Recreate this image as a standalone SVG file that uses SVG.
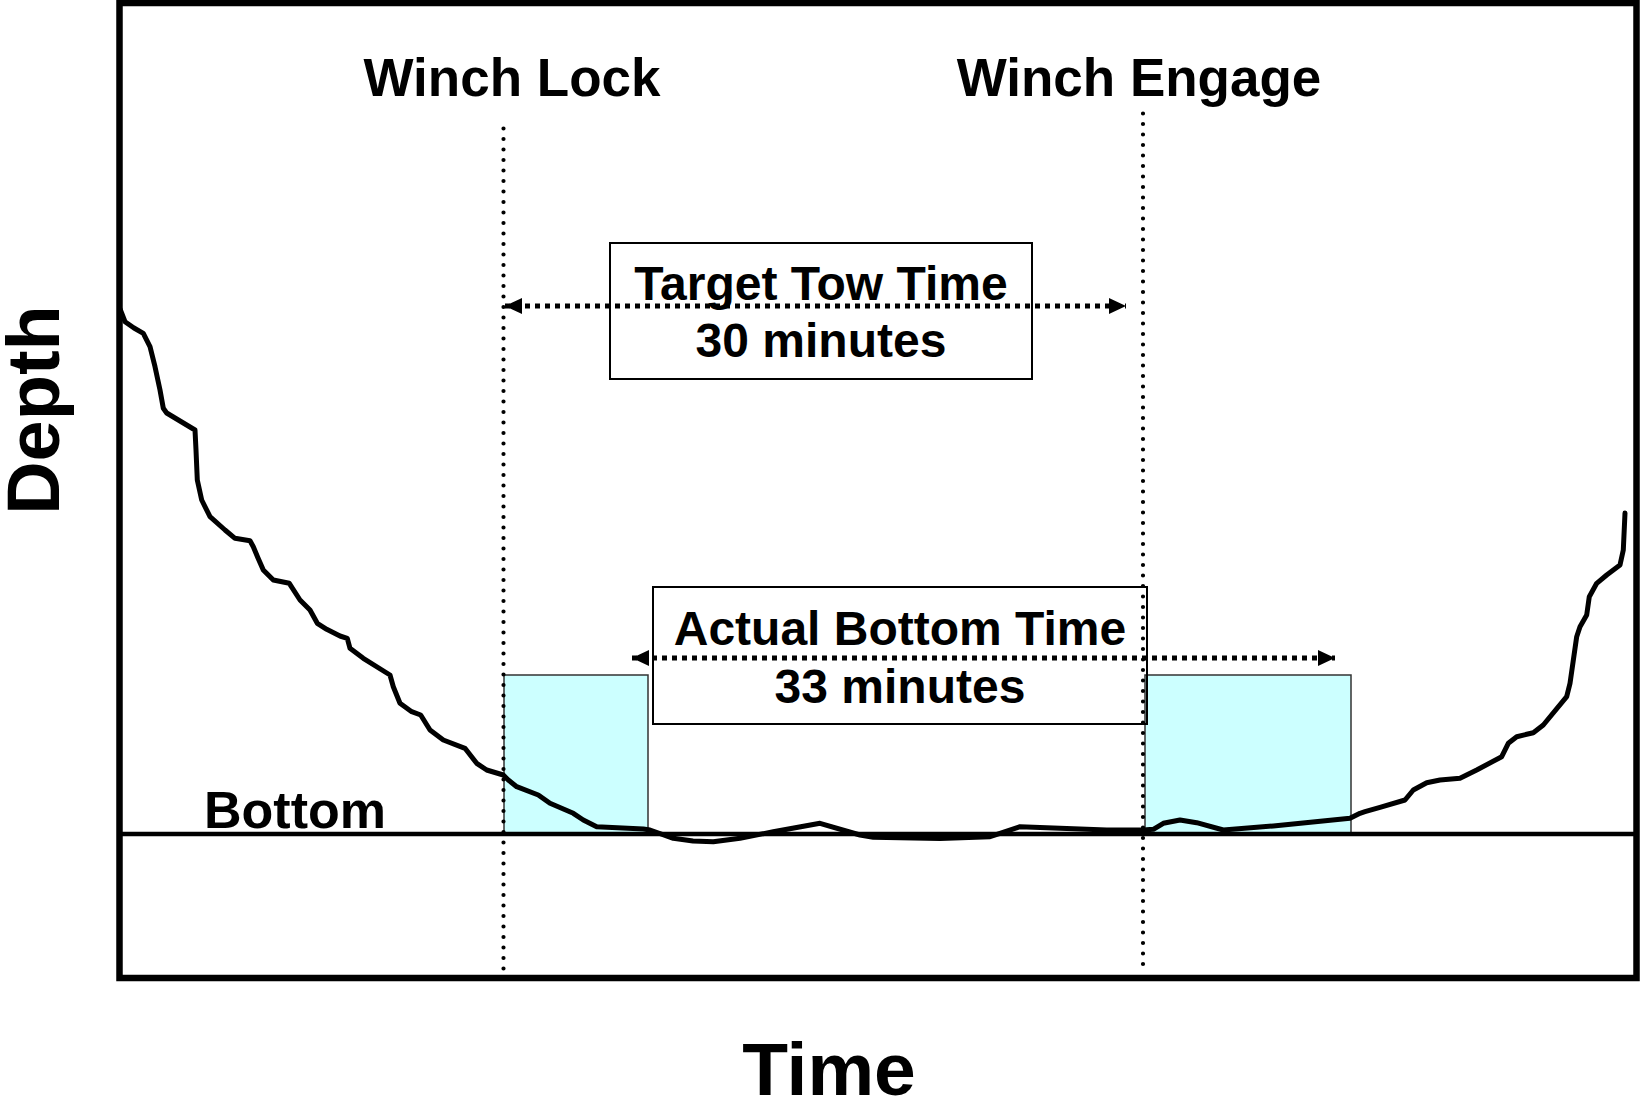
<svg xmlns="http://www.w3.org/2000/svg" width="1640" height="1101" viewBox="0 0 1640 1101">
<style>
  text { font-family: "Liberation Sans", Arial, sans-serif; font-weight: bold; fill: #000; }
  .lbl { font-size: 53px; text-anchor: middle; }
  .box-t { font-size: 48px; text-anchor: middle; }
  .axis { font-size: 74px; text-anchor: middle; }
  .vline { stroke: #000; stroke-width: 4.2; stroke-dasharray: 0 10.5; stroke-linecap: round; fill: none; }
  .arrow { stroke: #000; stroke-width: 5; stroke-dasharray: 5 5; fill: none; }
  .box { fill: none; stroke: #000; stroke-width: 2; }
  .zone { fill: #CCFFFF; stroke: #333; stroke-width: 1.5; }
</style>
<defs>
  <marker id="ah" markerUnits="userSpaceOnUse" markerWidth="18" markerHeight="16" refX="17" refY="8" orient="auto-start-reverse">
    <path d="M0,0 L17,8 L0,16 Z" fill="#000"/>
  </marker>
</defs>
<rect x="0" y="0" width="1640" height="1101" fill="#fff"/>

<g id="frame">
  <rect x="119.5" y="3" width="1517" height="975" fill="none" stroke="#000" stroke-width="6.5"/>
</g>

<g id="zone-left"><rect class="zone" x="504" y="675" width="144" height="159"/></g>
<g id="zone-right"><rect class="zone" x="1145" y="675" width="206" height="159"/></g>

<g id="bottom-line">
  <line x1="119.5" y1="834" x2="1636.5" y2="834" stroke="#000" stroke-width="4.5"/>
  <text x="204" y="828" style="font-size:52px">Bottom</text>
</g>

<g id="depth-curve">
  <polyline fill="none" stroke="#000" stroke-width="5" stroke-linejoin="round" stroke-linecap="round" points="120,309 122,314 125,321.7 134,328 143.3,333.3 150,346.7 155,366.7 160,390 163.3,408.3 166.7,413 195,430 196,450 197.3,480 201.7,500 210,516.7 225,530 235,538.3 250,540.7 253.3,546.7 258,558 263.3,570 273.3,580 289.3,583.3 300,600 310,610 317.3,623.3 326.7,629.3 340,636 347.3,638.3 350,648.3 363.3,658.3 390,675 393.3,686.7 400,703.3 411.7,711.7 420.7,715 430,730 443.3,740 465,748.3 476.7,763.3 486.7,770 503.3,775 508.3,780 516.7,786.7 538.3,795 550,803.3 573.3,813.3 583.3,820 596.7,826.7 643.3,829 650,830 673.3,838.3 693,841 713.3,841.7 740,838.3 773.3,831.7 820,823.3 860,835 873.3,837.3 940,838.5 990,836.7 1000,833.3 1020,826.7 1106.7,830 1143.3,830 1153.3,829.3 1163.3,823.3 1180,820 1196.7,822.7 1223.3,830 1273.3,826 1350,818.3 1360,813.3 1365,811.7 1380,807.3 1405,800 1413.3,790 1426.7,782.7 1440,780 1460,778.3 1476.7,770 1501.7,756.7 1508.3,743.3 1516.7,736.7 1533.3,732.7 1543.3,725 1566.7,696.7 1570,683.3 1576.7,636.7 1580,626.7 1586.7,615 1589.3,596.7 1596.7,583.3 1606.7,575 1620,565 1623.3,550 1625,513"/>
</g>

<g id="target-box">
  <rect class="box" x="610" y="243" width="422" height="136"/>
  <text class="box-t" x="821" y="300">Target Tow Time</text>
  <text class="box-t" x="821" y="357">30 minutes</text>
</g>

<g id="actual-box">
  <rect class="box" x="653" y="587" width="494" height="137"/>
  <text class="box-t" x="900" y="645">Actual Bottom Time</text>
  <text class="box-t" x="900" y="703">33 minutes</text>
</g>

<g id="winch-lock">
  <text class="lbl" x="512" y="96">Winch Lock</text>
</g>
<g id="winch-engage">
  <text class="lbl" x="1139" y="96">Winch Engage</text>
</g>

<g id="connectors">
  <line class="vline" x1="503.5" y1="128.5" x2="503.5" y2="974"/>
  <line class="vline" x1="1143" y1="113.5" x2="1143" y2="969"/>
  <line class="arrow" x1="505" y1="306" x2="1126" y2="306" marker-start="url(#ah)" marker-end="url(#ah)"/>
  <line class="arrow" x1="632" y1="658" x2="1335" y2="658" marker-start="url(#ah)" marker-end="url(#ah)"/>
</g>

<g id="axes">
  <text class="axis" transform="translate(59,410) rotate(-90)">Depth</text>
  <text class="axis" x="829" y="1095" style="font-size:75px">Time</text>
</g>
</svg>
